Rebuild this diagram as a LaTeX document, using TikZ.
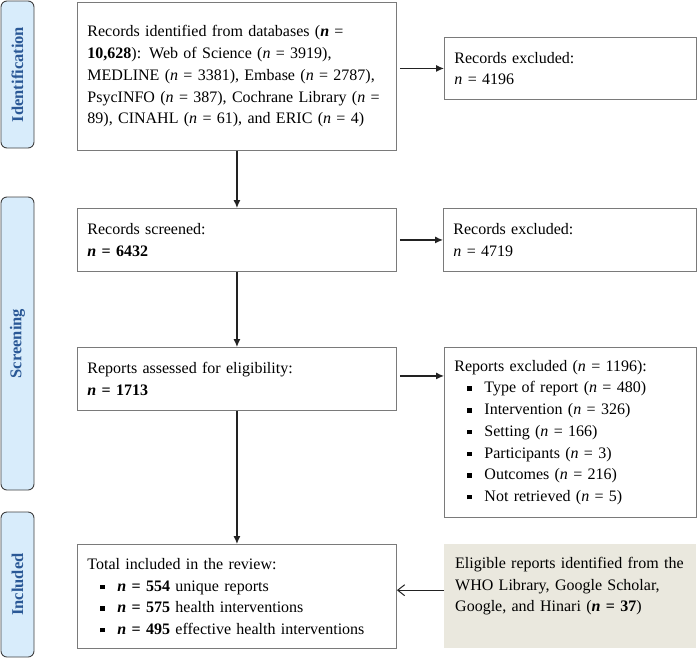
\documentclass[tikz,border=0pt]{standalone}
\usepackage{fontspec}
\setmainfont{Liberation Serif}
\usetikzlibrary{arrows.meta}
\definecolor{sidefill}{HTML}{D8ECFB}
\definecolor{sidetext}{HTML}{2A5896}
\definecolor{sideline}{HTML}{404040}
\definecolor{boxline}{HTML}{7A7A7A}
\definecolor{greyfill}{HTML}{EAE8DE}
\definecolor{arrowcol}{HTML}{222222}
\newcommand{\bnum}{\textbf{\textit{n}}}
\newcommand{\inum}{\textit{n}}
\newcommand{\bul}{\hspace*{13pt}\makebox[17pt][l]{\rule[2pt]{4.5pt}{4.5pt}}}
\begin{document}
\begin{tikzpicture}[x=1pt,y=-1pt,
  every node/.style={font=\fontsize{16}{21.7}\selectfont},
  sidebox/.style={draw=sideline, line width=0.9pt, fill=sidefill, rounded corners=6pt,
    rotate=90, minimum height=33pt, inner sep=0pt,
    font=\fontsize{16.5}{18}\selectfont\bfseries, text=sidetext},
  flowbox/.style={draw=boxline, line width=0.9pt, anchor=north west, inner xsep=10pt,
    inner ysep=0pt, align=left},
  arr/.style={draw=arrowcol, line width=1.2pt, -{Latex[length=8pt,width=7pt]}},
  openarr/.style={draw=arrowcol, line width=1pt, -{Straight Barb[length=7pt,width=11pt]}}
]
\useasboundingbox (0,0) rectangle (700,659);

% side labels
\node[sidebox, minimum width=147pt] (sid) at (17.5,74.5) {Identification};
\node[sidebox, minimum width=293pt] (ssc) at (17.5,343.5) {Screening};
\node[sidebox, minimum width=145pt] (sin) at (17.5,584.5) {Included};

% main column
\node[flowbox, minimum width=319pt, minimum height=148pt, text width=299pt] (ident) at (77,2)
 {Records identified from databases (\bnum{} =\\
  \textbf{10,628}): Web of Science (\inum{} = 3919),\\
  MEDLINE (\inum{} = 3381), Embase (\inum{} = 2787),\\
  PsycINFO (\inum{} = 387), Cochrane Library (\inum{} =\\
  89), CINAHL (\inum{} = 61), and ERIC (\inum{} = 4)};

\node[flowbox, minimum width=319pt, minimum height=63pt, text width=299pt] (scr) at (77,208)
 {Records screened:\\ \bnum{} \textbf{= 6432}};

\node[flowbox, minimum width=319pt, minimum height=63pt, text width=299pt] (elig) at (77,347)
 {Reports assessed for eligibility:\\ \bnum{} \textbf{= 1713}};

\node[flowbox, minimum width=319pt, minimum height=104pt, text width=299pt] (incl) at (77,544)
 {Total included in the review:\\
  \bul\bnum{} \textbf{= 554} unique reports\\
  \bul\bnum{} \textbf{= 575} health interventions\\
  \bul\bnum{} \textbf{= 495} effective health interventions};

% right column
\node[flowbox, minimum width=252pt, minimum height=62pt, text width=232pt] (ex1) at (444,37)
 {Records excluded:\\ \inum{} = 4196};

\node[flowbox, minimum width=253pt, minimum height=63pt, text width=233pt] (ex2) at (443,208)
 {Records excluded:\\ \inum{} = 4719};

\node[flowbox, minimum width=252pt, minimum height=170pt, text width=232pt] (ex3) at (444,347)
 {Reports excluded (\inum{} = 1196):\\
  \bul Type of report (\inum{} = 480)\\
  \bul Intervention (\inum{} = 326)\\
  \bul Setting (\inum{} = 166)\\
  \bul Participants (\inum{} = 3)\\
  \bul Outcomes (\inum{} = 216)\\
  \bul Not retrieved (\inum{} = 5)};

\node[fill=greyfill, anchor=north west, minimum width=252pt, minimum height=104pt, inner sep=0pt] (other) at (444,544) {};
\node[anchor=north west, align=left, inner sep=0pt, text width=235pt] (othertxt) at (455,557)
 {Eligible reports identified from the\\
  WHO Library, Google Scholar,\\
  Google, and Hinari (\bnum{} \textbf{= 37})};

% connectors
\draw[arr] (ident.south) -- (scr.north);
\draw[arr] (scr.south) -- (elig.north);
\draw[arr] (elig.south) -- (incl.north);
\draw[arr, shorten <=3pt] (ident.east |- ex1.west) -- (ex1.west);
\draw[arr, shorten <=3pt] (scr.east) -- (ex2.west);
\draw[arr, shorten <=3pt] ([yshift=3pt]elig.east) -- ([yshift=3pt]elig.east -| ex3.west);
\draw[openarr] ([yshift=6pt]other.west) -- ([yshift=6pt]other.west -| incl.east);
\end{tikzpicture}
\end{document}
